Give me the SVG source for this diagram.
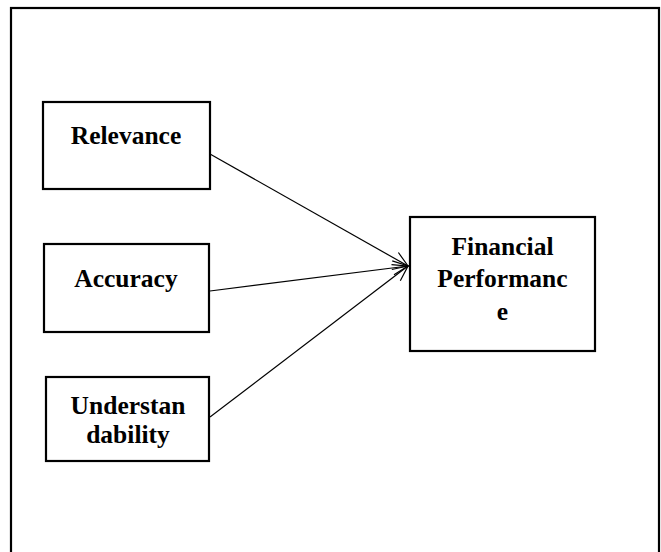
<svg xmlns="http://www.w3.org/2000/svg" width="661" height="552" viewBox="0 0 661 552">
<style>
.box{fill:#fff;stroke:#000;stroke-width:2.2}
.lbl{font-family:"Liberation Serif","Times New Roman",serif;font-weight:bold;font-size:25.5px;fill:#000;text-anchor:middle}
.conn{stroke:#000;stroke-width:1.2;fill:none}
</style>
<defs>
<marker id="arr" markerUnits="userSpaceOnUse" markerWidth="20" markerHeight="20" refX="16" refY="8" orient="auto">
<path d="M1,1 L16,8 L1,15" fill="none" stroke="#000" stroke-width="1.2"/>
</marker>
</defs>
<rect x="11" y="8" width="648" height="560" fill="#fff" stroke="#000" stroke-width="2.2"/>
<g id="connectors">
<line class="conn" x1="210" y1="154" x2="408" y2="266" marker-end="url(#arr)"/>
<line class="conn" x1="210" y1="291" x2="408" y2="266" marker-end="url(#arr)"/>
<line class="conn" x1="210" y1="417" x2="408" y2="266" marker-end="url(#arr)"/>
</g>
<g id="relevance">
<rect class="box" x="43" y="102" width="167" height="87"/>
<text class="lbl" x="126" y="144">Relevance</text>
</g>
<g id="accuracy">
<rect class="box" x="44" y="244" width="165" height="88"/>
<text class="lbl" x="126" y="287">Accuracy</text>
</g>
<g id="understandability">
<rect class="box" x="46" y="377" width="163" height="84"/>
<text class="lbl" x="128" y="414">Understan</text>
<text class="lbl" x="128" y="443">dability</text>
</g>
<g id="financial">
<rect class="box" x="410" y="217" width="185" height="134"/>
<text class="lbl" x="502.5" y="255">Financial</text>
<text class="lbl" x="502.5" y="287">Performanc</text>
<text class="lbl" x="502.5" y="320">e</text>
</g>
</svg>
